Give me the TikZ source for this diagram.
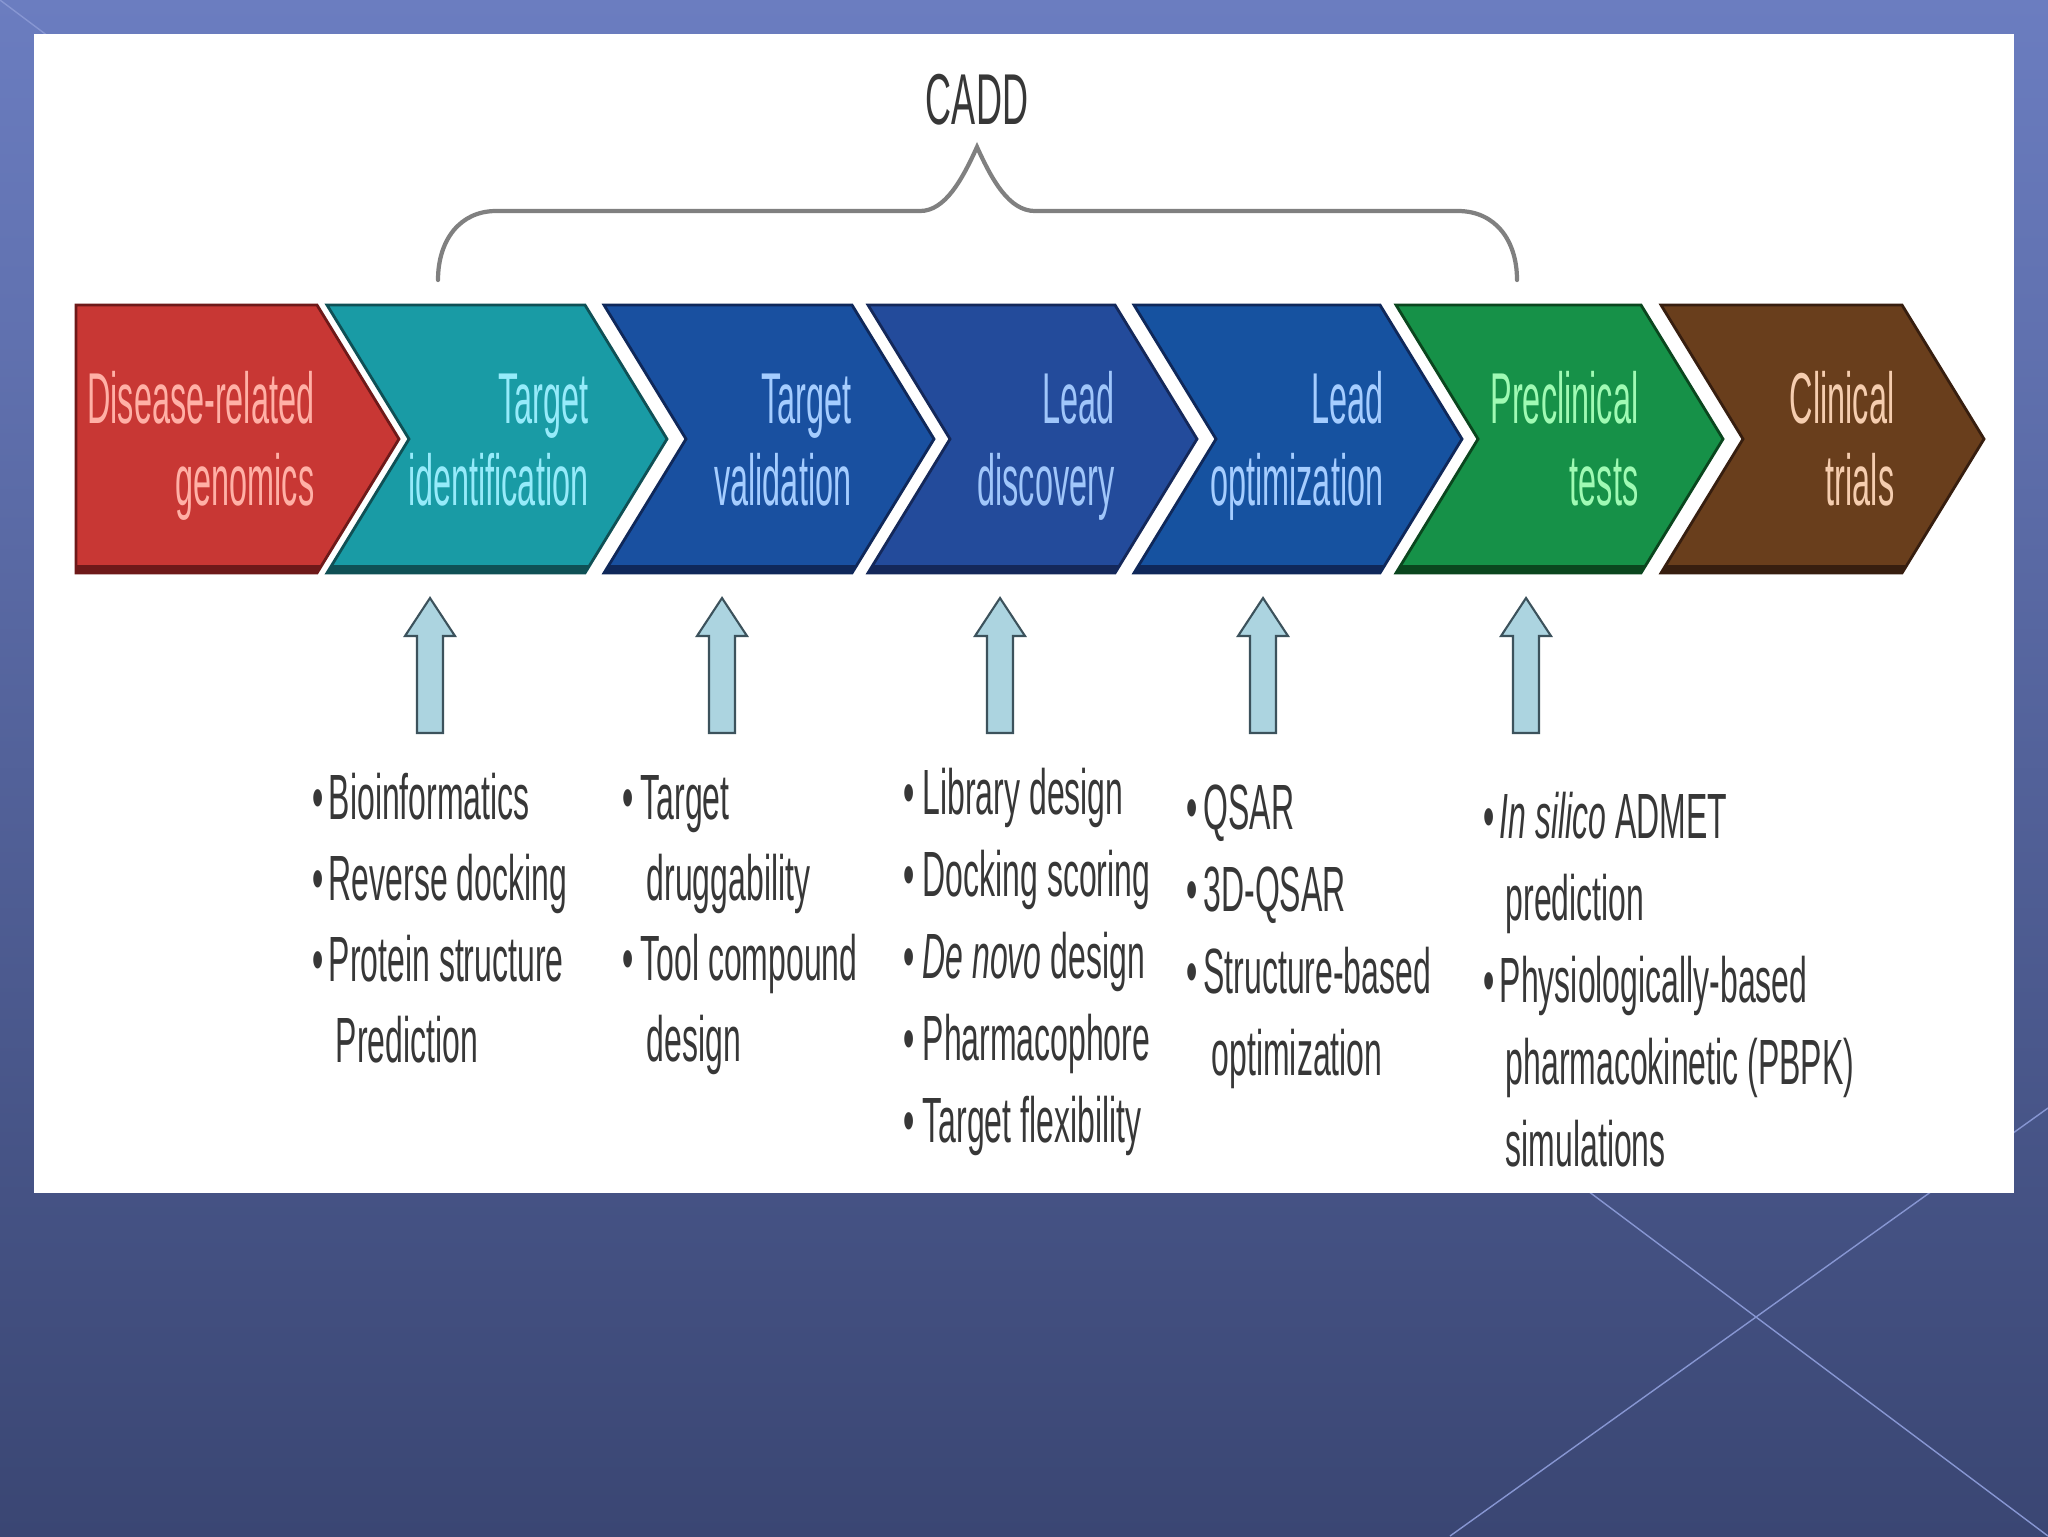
\documentclass[tikz,border=0pt]{standalone}
\usepackage{fontspec}
\setmainfont{Liberation Sans}
\newfontfamily\chevfont[FakeStretch=0.45]{Liberation Sans}
\newfontfamily\listfont[FakeStretch=0.5]{Liberation Sans}
\definecolor{bgtop}{RGB}{107,125,192}
\definecolor{bgbot}{RGB}{58,70,115}
\definecolor{bgline}{RGB}{135,150,210}
\definecolor{bracegray}{RGB}{128,128,128}
\definecolor{listgray}{RGB}{55,55,55}
\definecolor{arrowfill}{RGB}{172,212,224}
\definecolor{arrowdraw}{RGB}{60,82,92}
\definecolor{redF}{RGB}{200,55,52}\definecolor{redD}{RGB}{110,25,25}\definecolor{redT}{RGB}{255,176,166}
\definecolor{tealF}{RGB}{25,155,165}\definecolor{tealD}{RGB}{15,80,85}\definecolor{tealT}{RGB}{150,235,250}
\definecolor{tvF}{RGB}{25,80,160}\definecolor{tvD}{RGB}{15,40,90}\definecolor{tvT}{RGB}{165,205,255}
\definecolor{ldF}{RGB}{35,75,155}\definecolor{ldD}{RGB}{20,40,90}\definecolor{ldT}{RGB}{160,198,250}
\definecolor{loF}{RGB}{22,82,160}\definecolor{loD}{RGB}{15,40,90}\definecolor{loT}{RGB}{165,205,255}
\definecolor{pcF}{RGB}{22,145,72}\definecolor{pcD}{RGB}{10,70,30}\definecolor{pcT}{RGB}{160,250,180}
\definecolor{ctF}{RGB}{105,62,28}\definecolor{ctD}{RGB}{55,30,15}\definecolor{ctT}{RGB}{245,205,175}
% chevron: #1 left x, #2 top-right x, #3 fill, #4 dark, #5 notch depth (0 = flat left)
\newcommand{\mychev}[5]{%
  \fill[#3] (#1,305) -- (#2,305) -- (#2+82,439) -- (#2,573) -- (#1,573) -- (#1+#5,439) -- cycle;
  \fill[#4] (#1+#5*0.06,565) -- (#2+5,565) -- (#2,573) -- (#1,573) -- cycle;
  \draw[#4, line width=0.8pt, line join=miter] (#1,305) -- (#2,305) -- (#2+82,439) -- (#2,573) -- (#1,573) -- (#1+#5,439) -- cycle;
}
\newcommand{\myuparrow}[1]{%
  \draw[uparrowstyle] (#1-13,733) -- (#1-13,636) -- (#1-25,636) -- (#1,598) -- (#1+25,636) -- (#1+13,636) -- (#1+13,733) -- cycle;
}
\newcommand{\bl}[1]{\makebox[#1][l]{\textbullet}}
\begin{document}
\begin{tikzpicture}[x=0.1mm,y=-0.1mm,
  chevtext/.style={anchor=base east, inner sep=0pt, font=\chevfont\fontsize{20.5}{24}\selectfont},
  listitem/.style={anchor=base west, inner sep=0pt, text=listgray, font=\listfont\fontsize{18.2}{22}\selectfont},
  uparrowstyle/.style={fill=arrowfill, draw=arrowdraw, line width=0.6pt, line join=miter}]
\useasboundingbox (0,0) rectangle (2048,1536);
% background
\shade[top color=bgtop, bottom color=bgbot] (0,0) rectangle (2048,1536);
\draw[bgline, line width=0.4pt] (0,0) -- (2048,1536);
\draw[bgline, line width=0.4pt] (1450,1536) -- (2048,1108);
% white panel
\fill[white] (34,34) rectangle (2014,1193);
% CADD brace
\node[anchor=base, inner sep=0pt, text=listgray, font=\listfont\fontsize{20.5}{24}\selectfont] (cadd) at (977,124) {CADD};
\draw[bracegray, line width=1.2pt, line cap=round]
  (438,280) .. controls (438,240) and (460,211) .. (496,211) -- (920,211)
  .. controls (945,211) and (962,180) .. (977,147)
  .. controls (992,180) and (1009,211) .. (1035,211) -- (1458,211)
  .. controls (1495,211) and (1517,240) .. (1517,280);
% chevrons
\mychev{76}{317}{redF}{redD}{0}
\mychev{327}{585}{tealF}{tealD}{82}
\mychev{604}{852}{tvF}{tvD}{82}
\mychev{868}{1115}{ldF}{ldD}{82}
\mychev{1134}{1380}{loF}{loD}{82}
\mychev{1396}{1641}{pcF}{pcD}{82}
\mychev{1661}{1902}{ctF}{ctD}{82}
% chevron labels
\node[chevtext, text=redT] (c1a) at (315,423) {Disease-related};
\node[chevtext, text=redT] (c1b) at (315,505) {genomics};
\node[chevtext, text=tealT] (c2a) at (589,423) {Target};
\node[chevtext, text=tealT] (c2b) at (589,505) {identification};
\node[chevtext, text=tvT] (c3a) at (852,423) {Target};
\node[chevtext, text=tvT] (c3b) at (852,505) {validation};
\node[chevtext, text=ldT] (c4a) at (1115,423) {Lead};
\node[chevtext, text=ldT] (c4b) at (1115,505) {discovery};
\node[chevtext, text=loT] (c5a) at (1384,423) {Lead};
\node[chevtext, text=loT] (c5b) at (1384,505) {optimization};
\node[chevtext, text=pcT] (c6a) at (1639,423) {Preclinical};
\node[chevtext, text=pcT] (c6b) at (1639,505) {tests};
\node[chevtext, text=ctT] (c7a) at (1895,423) {Clinical};
\node[chevtext, text=ctT] (c7b) at (1895,505) {trials};
% up arrows
\myuparrow{430}
\myuparrow{722}
\myuparrow{1000}
\myuparrow{1263}
\myuparrow{1526}
% column 1
\node[listitem] (l1a) at (312,819) {\bl{4.6pt}Bioinformatics};
\node[listitem] (l1b) at (312,900) {\bl{4.6pt}Reverse docking};
\node[listitem] (l1c) at (312,981) {\bl{4.6pt}Protein structure};
\node[listitem] (l1d) at (335,1062) {Prediction};
% column 2
\node[listitem] (l2a) at (622,819) {\bl{5.1pt}Target};
\node[listitem] (l2b) at (646,900) {druggability};
\node[listitem] (l2c) at (622,980) {\bl{5.1pt}Tool compound};
\node[listitem] (l2d) at (646,1061) {design};
% column 3
\node[listitem] (l3a) at (903,814) {\bl{5.4pt}Library design};
\node[listitem] (l3b) at (903,896) {\bl{5.4pt}Docking scoring};
\node[listitem] (l3c) at (903,978) {\bl{5.4pt}\textit{De novo} design};
\node[listitem] (l3d) at (903,1060) {\bl{5.4pt}Pharmacophore};
\node[listitem] (l3e) at (903,1142) {\bl{5.4pt}Target flexibility};
% column 4
\node[listitem] (l4a) at (1186,829) {\bl{4.8pt}QSAR};
\node[listitem] (l4b) at (1186,911) {\bl{4.8pt}3D-QSAR};
\node[listitem] (l4c) at (1186,993) {\bl{4.8pt}Structure-based};
\node[listitem] (l4d) at (1211,1075) {optimization};
% column 5
\node[listitem] (l5a) at (1483,838) {\bl{4.6pt}\textit{In silico} ADMET};
\node[listitem] (l5b) at (1505,920) {prediction};
\node[listitem] (l5c) at (1483,1002) {\bl{4.6pt}Physiologically-based};
\node[listitem] (l5d) at (1505,1084) {pharmacokinetic (PBPK)};
\node[listitem] (l5e) at (1505,1166) {simulations};
\end{tikzpicture}
\end{document}
